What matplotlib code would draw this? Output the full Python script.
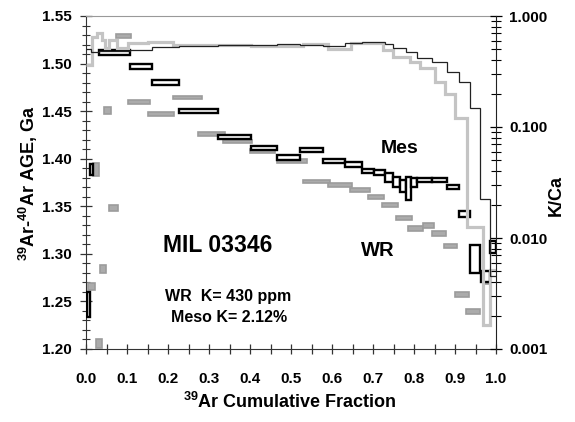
import matplotlib
matplotlib.use("Agg")
import matplotlib.pyplot as plt
from matplotlib.patches import Rectangle
from matplotlib.ticker import MultipleLocator, FixedLocator, LogLocator, NullFormatter

plt.rcParams["font.family"] = ["Liberation Sans", "DejaVu Sans"]
plt.rcParams["font.weight"] = "bold"
plt.rcParams["mathtext.default"] = "regular"

# Mesostasis age spectrum: step start/end (cumulative 39Ar), age low/high (Ga)
mes_x0 = [0.003, 0.009, 0.032, 0.107, 0.161, 0.227, 0.322, 0.402, 0.466, 0.522, 0.578, 0.632, 0.673,
          0.702, 0.729, 0.749, 0.766, 0.780, 0.793, 0.807, 0.844, 0.880, 0.910, 0.937, 0.963, 0.985]
mes_x1 = [0.010, 0.018, 0.107, 0.161, 0.227, 0.322, 0.402, 0.466, 0.522, 0.578, 0.632, 0.673, 0.702,
          0.729, 0.749, 0.766, 0.780, 0.793, 0.807, 0.844, 0.880, 0.910, 0.937, 0.961, 0.985, 1.000]
mes_lo = [1.234, 1.383, 1.509, 1.494, 1.478, 1.448, 1.421, 1.409, 1.399, 1.407, 1.396, 1.391, 1.385,
          1.383, 1.376, 1.370, 1.365, 1.357, 1.370, 1.376, 1.376, 1.368, 1.339, 1.280, 1.270, 1.301]
mes_hi = [1.260, 1.394, 1.514, 1.4995, 1.483, 1.452, 1.425, 1.413, 1.404, 1.411, 1.400, 1.397, 1.389,
          1.388, 1.385, 1.381, 1.378, 1.381, 1.380, 1.380, 1.380, 1.372, 1.345, 1.309, 1.282, 1.314]

# Whole-rock age spectrum
wr_x0 = [0.006, 0.018, 0.025, 0.035, 0.045, 0.055, 0.074, 0.103, 0.150, 0.211, 0.274, 0.335, 0.401,
         0.466, 0.530, 0.591, 0.645, 0.689, 0.723, 0.755, 0.786, 0.821, 0.845, 0.872, 0.901, 0.928, 0.968]
wr_x1 = [0.021, 0.031, 0.038, 0.048, 0.060, 0.077, 0.109, 0.155, 0.214, 0.284, 0.338, 0.404, 0.460,
         0.538, 0.594, 0.648, 0.692, 0.728, 0.760, 0.794, 0.821, 0.850, 0.879, 0.906, 0.933, 0.962, 0.982]
wr_lo = [1.262, 1.382, 1.201, 1.280, 1.447, 1.345, 1.527, 1.458, 1.445, 1.463, 1.424, 1.416, 1.406,
         1.396, 1.375, 1.370, 1.365, 1.358, 1.349, 1.336, 1.324, 1.327, 1.319, 1.306, 1.255, 1.237, 1.268]
wr_hi = [1.269, 1.395, 1.211, 1.288, 1.454, 1.351, 1.531, 1.462, 1.449, 1.466, 1.428, 1.420, 1.410,
         1.400, 1.378, 1.375, 1.369, 1.362, 1.353, 1.340, 1.329, 1.332, 1.324, 1.310, 1.260, 1.242, 1.275]

# K/Ca release spectra (step edges and values)
mes_kca_edges = [0, 0.011, 0.032, 0.107, 0.161, 0.227, 0.322, 0.402, 0.466, 0.522, 0.578, 0.632, 0.673,
                 0.702, 0.729, 0.749, 0.766, 0.780, 0.793, 0.807, 0.844, 0.880, 0.910, 0.937, 0.961, 0.985, 1.0]
mes_kca = [0.50, 0.47, 0.48, 0.49, 0.53, 0.54, 0.55, 0.55, 0.56, 0.55, 0.54, 0.57, 0.58,
           0.58, 0.56, 0.52, 0.52, 0.47, 0.47, 0.42, 0.385, 0.31, 0.254, 0.148, 0.0225, 0.0045]

wr_kca_edges = [0, 0.015, 0.027, 0.039, 0.046, 0.056, 0.075, 0.102, 0.151, 0.212, 0.28, 0.403, 0.529,
                0.59, 0.646, 0.725, 0.749, 0.79, 0.815, 0.851, 0.875, 0.90, 0.93, 0.968, 0.985, 1.0]
wr_kca = [0.36, 0.65, 0.70, 0.61, 0.51, 0.61, 0.51, 0.57, 0.58, 0.55, 0.55, 0.54, 0.56,
          0.50, 0.57, 0.494, 0.427, 0.385, 0.34, 0.254, 0.20, 0.12, 0.0125, 0.00165, 0.0052]

W, H = 575, 422
fig = plt.figure(figsize=(W / 100, H / 100), dpi=100)
ax = fig.add_axes([86 / W, 73 / H, 410 / W, 333 / H])

for x0, x1, lo, hi in zip(wr_x0, wr_x1, wr_lo, wr_hi):
    ax.add_patch(Rectangle((x0, lo), x1 - x0, hi - lo, facecolor="#ababab",
                           edgecolor="#9c9c9c", linewidth=1.2, zorder=2))
for x0, x1, lo, hi in zip(mes_x0, mes_x1, mes_lo, mes_hi):
    ax.add_patch(Rectangle((x0, lo), x1 - x0, hi - lo, facecolor="white",
                           edgecolor="black", linewidth=1.7, zorder=3))

ax.set_xlim(0, 1.0)
ax.set_ylim(1.20, 1.55)
ax.xaxis.set_major_locator(MultipleLocator(0.1))
ax.xaxis.set_minor_locator(MultipleLocator(0.05))
ax.yaxis.set_major_locator(MultipleLocator(0.05))
ax.yaxis.set_minor_locator(MultipleLocator(0.01))
ax.xaxis.set_major_formatter(lambda v, p: f"{v:.1f}")
ax.yaxis.set_major_formatter(lambda v, p: f"{v:.2f}")
ax.tick_params(axis="x", which="both", direction="inout", length=7, width=0.9, color="#333333",
               labelsize=11, pad=13)
ax.tick_params(axis="y", which="major", direction="inout", length=9, width=0.9, color="#333333",
               labelsize=11, pad=6)
ax.tick_params(axis="y", which="minor", direction="inout", length=6, width=0.8, color="#333333")
for lab in ax.get_xticklabels() + ax.get_yticklabels():
    lab.set_fontweight("bold")
ax.spines["top"].set_color("#999999")
ax.spines["left"].set_color("#333333")
ax.spines["bottom"].set_color("#333333")
ax.spines["right"].set_visible(False)

ax2 = ax.twinx()
ax2.set_yscale("log")
ax2.set_ylim(0.001, 1.0)
ax2.stairs(wr_kca, wr_kca_edges, baseline=None, color="#c4c4c4", linewidth=2.3, zorder=1)
ax2.stairs(mes_kca, mes_kca_edges, baseline=None, color="#222222", linewidth=0.9, zorder=2)
ax2.yaxis.set_major_locator(FixedLocator([0.001, 0.01, 0.1, 1.0]))
ax2.yaxis.set_minor_locator(LogLocator(base=10, subs=range(2, 10)))
ax2.yaxis.set_minor_formatter(NullFormatter())
ax2.set_yticklabels(["0.001", "0.010", "0.100", "1.000"], fontweight="bold")
ax2.tick_params(axis="y", which="major", direction="inout", length=9, width=0.9, labelsize=11, pad=5)
ax2.tick_params(axis="y", which="minor", direction="inout", length=7, width=0.8)
ax2.spines["right"].set_color("#222222")
ax2.spines["top"].set_visible(False)
ax2.spines["left"].set_visible(False)
ax2.spines["bottom"].set_visible(False)

ax.text(0.322, 1.309, "MIL 03346", fontsize=16.5, fontweight="bold", ha="center", va="center")
ax.text(0.766, 1.411, "Mes", fontsize=14, fontweight="bold", ha="center", va="center")
ax.text(0.712, 1.304, "WR", fontsize=14.5, fontweight="bold", ha="center", va="center")
ax.text(0.193, 1.255, "WR  K= 430 ppm", fontsize=11.5, fontweight="bold", ha="left", va="center")
ax.text(0.208, 1.233, "Meso K= 2.12%", fontsize=11.5, fontweight="bold", ha="left", va="center")

fig.text(28 / W, 1 - 183 / H, r"$^{39}$Ar-$^{40}$Ar AGE, Ga", rotation=90, fontsize=13,
         fontweight="bold", ha="center", va="center")
fig.text(290 / W, 1 - 402 / H, r"$^{39}$Ar Cumulative Fraction", fontsize=13,
         fontweight="bold", ha="center", va="center")
fig.text(556 / W, 1 - 196 / H, "K/Ca", rotation=90, fontsize=13,
         fontweight="bold", ha="center", va="center")

fig.savefig("out.png", dpi=100)
